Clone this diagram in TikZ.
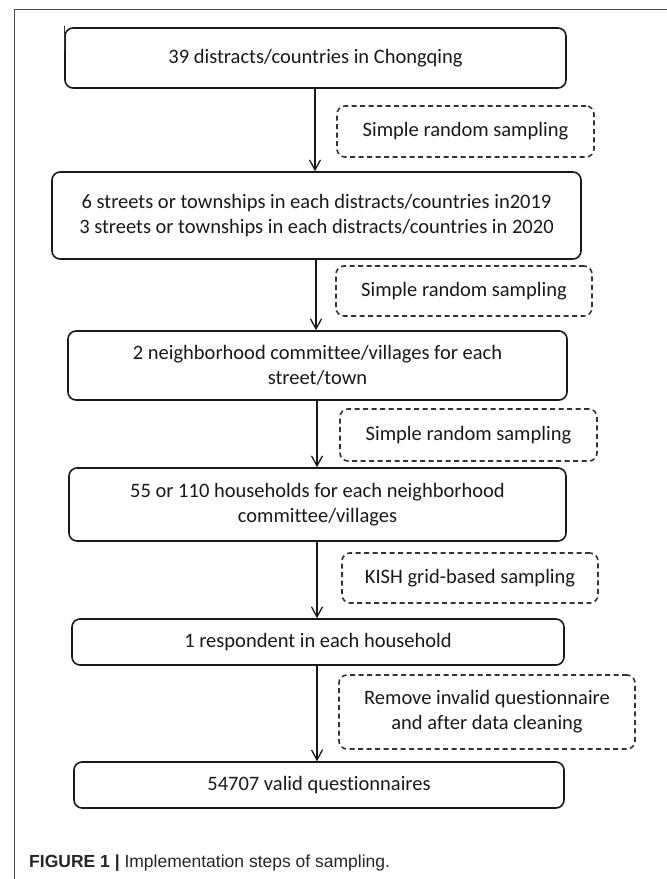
\documentclass[tikz,border=0pt]{standalone}
\usepackage{fontspec}
\setmainfont{Carlito}[Ligatures={NoCommon}]
\newfontfamily\capfont{Liberation Sans}
\usetikzlibrary{arrows.meta}
\begin{document}
\begin{tikzpicture}[x=1pt,y=-1pt,
  stepbox/.style={draw=black!90,line width=1.6pt,rounded corners=8pt,align=center,font=\fontsize{20.5}{25}\selectfont,inner sep=0pt,text=black!90},
  notebox/.style={draw=black!80,line width=1.6pt,rounded corners=8pt,dash pattern=on 5pt off 3.5pt,align=center,font=\fontsize{20.5}{25}\selectfont,inner sep=0pt,text=black!90},
  flow/.style={black!90,line width=1.3pt,-{Straight Barb[length=10pt,width=11pt,line width=1.3pt]}}]
\useasboundingbox (0,0) rectangle (667,879);
\draw[black!70,line width=1pt] (14,879) -- (14,9) -- (667,9);
\node[stepbox,minimum width=501pt,minimum height=60pt] (b1) at (315.5,58) {39 distracts/countries in Chongqing};
\node[stepbox,minimum width=529pt,minimum height=87pt] (b2) at (316.5,215.5) {6 streets or townships in each distracts/countries in2019\\3 streets or townships in each distracts/countries in 2020};
\node[stepbox,minimum width=499pt,minimum height=69pt] (b3) at (317.5,365.5) {2 neighborhood committee/villages for each\\street/town};
\node[stepbox,minimum width=497pt,minimum height=73pt] (b4) at (317.5,504.5) {55 or 110 households for each neighborhood\\committee/villages};
\node[stepbox,minimum width=492pt,minimum height=46pt] (b5) at (318,642) {1 respondent in each household};
\node[stepbox,minimum width=490pt,minimum height=46pt] (b6) at (319,785) {54707 valid questionnaires};
\node[notebox,minimum width=257pt,minimum height=51pt] (n1) at (465.5,131.5) {Simple random sampling};
\node[notebox,minimum width=256pt,minimum height=50pt] (n2) at (464,291) {Simple random sampling};
\node[notebox,minimum width=257pt,minimum height=52pt] (n3) at (468.5,435) {Simple random sampling};
\node[notebox,minimum width=256pt,minimum height=50pt] (n4) at (470,578) {KISH grid-based sampling};
\node[notebox,minimum width=296pt,minimum height=74pt] (n5) at (487,712) {Remove invalid questionnaire\\and after data cleaning};
\coordinate (t1) at (64,26);
\coordinate (t2) at (64,50);
\draw[black!80,line width=1pt] (t1) -- (t2);
\draw[flow] (315,88) coordinate (a1) -- (a1 |- b2.north);
\draw[flow] (316,259) coordinate (a2) -- (a2 |- b3.north);
\draw[flow] (317,400) coordinate (a3) -- (a3 |- b4.north);
\draw[flow] (317,541) coordinate (a4) -- (a4 |- b5.north);
\draw[flow] (317,665) coordinate (a5) -- (a5 |- b6.north);
\node[anchor=base west,inner sep=0pt,text=black!85,font=\capfont\fontsize{17.5}{20}\selectfont] (cap) at (29,867) {\textbf{FIGURE 1} \textbf{|} Implementation steps of sampling.};
\end{tikzpicture}
\end{document}
